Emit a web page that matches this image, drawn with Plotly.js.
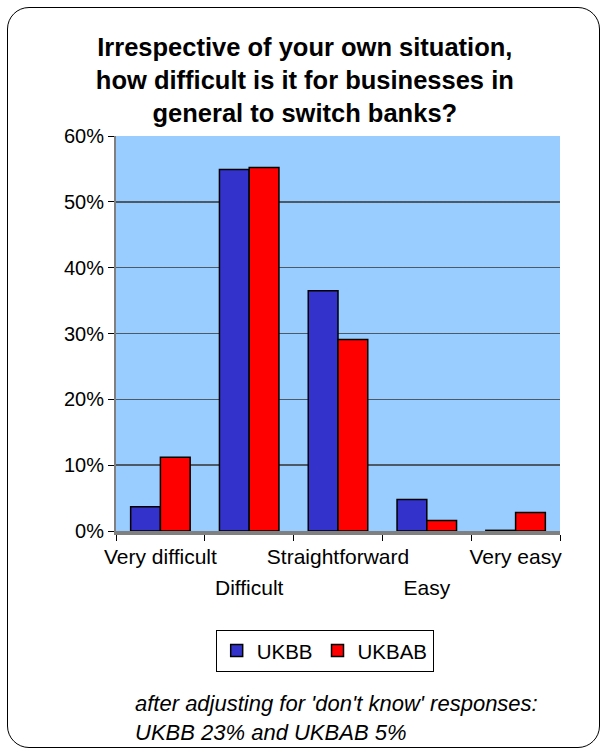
<!DOCTYPE html>
<html>
<head>
<meta charset="utf-8">
<script src="https://cdn.plot.ly/plotly-3.0.1.min.js"></script>
<style>
  html, body { margin: 0; padding: 0; background: #ffffff; }
  #wrap { position: relative; width: 606px; height: 754px; }
  #chart { position: absolute; left: 0; top: 0; width: 606px; height: 754px; }
  #frame { position: absolute; left: 7px; top: 7px; width: 591px; height: 739px;
           border: 1.5px solid #000; border-radius: 22px; pointer-events: none; }
</style>
</head>
<body>
<div id="wrap">
  <div id="chart"></div>
  <div id="frame"></div>
</div>
<script>
const categories = ["Very difficult", "Difficult", "Straightforward", "Easy", "Very easy"];
const tickRows = [0, 1, 0, 1, 0];
const ukbb  = [0.037, 0.549, 0.365, 0.048, 0.001];
const ukbab = [0.112, 0.552, 0.291, 0.016, 0.028];
const seriesNames = ["UKBB", "UKBAB"];

const font = "Liberation Sans, Arial, sans-serif";
const tickLabels = categories.map((c, i) =>
  (tickRows[i] ? " <br>" : "") + "<span style='font-size:21px'>" + c + "</span>");

const traces = [
  { type: "bar", name: seriesNames[0], x: categories, y: ukbb,
    marker: { color: "#3333CC", line: { color: "#000000", width: 1.5 } } },
  { type: "bar", name: seriesNames[1], x: categories, y: ukbab,
    marker: { color: "#FF0000", line: { color: "#000000", width: 1.5 } } }
];

const layout = {
  width: 606, height: 754,
  margin: { l: 116, r: 46, t: 136, b: 223 },
  paper_bgcolor: "rgba(0,0,0,0)",
  plot_bgcolor: "#99CCFF",
  barmode: "group",
  bargap: 0.33,
  bargroupgap: 0,
  showlegend: true,
  title: {
    text: "<b>Irrespective of your own situation,<br>how difficult is it for businesses in<br>general to switch banks?</b>",
    font: { family: font, size: 25.5, color: "#000" },
    x: 0.503, xref: "container", xanchor: "center",
    y: 0.926, yref: "container", yanchor: "top"
  },
  xaxis: {
    type: "category",
    tickvals: categories, ticktext: tickLabels,
    tickangle: 0,
    tickfont: { family: font, size: 24, color: "#000" },
    showline: true, linecolor: "#808080", linewidth: 4,
    ticks: "outside", ticklen: 6, tickcolor: "#000",
    tickson: "boundaries",
    showgrid: false, fixedrange: true
  },
  yaxis: {
    range: [0, 0.6], dtick: 0.1, tickformat: ".0%",
    tickfont: { family: font, size: 20, color: "#000" },
    showline: true, linecolor: "#808080", linewidth: 2,
    ticks: "outside", ticklen: 6, tickcolor: "#000",
    showgrid: true, gridcolor: "#4d5a66", gridwidth: 1.5,
    zeroline: false, fixedrange: true
  },
  legend: {
    orientation: "h",
    x: 0.47, xanchor: "center",
    y: -0.25, yanchor: "top",
    bordercolor: "#000", borderwidth: 1, bgcolor: "#fff",
    font: { family: font, size: 20.5, color: "#000" },
    itemwidth: 30
  },
  annotations: [{
    xref: "paper", yref: "paper",
    x: 0.038, y: -0.473, xanchor: "left", yanchor: "middle",
    align: "left", showarrow: false,
    text: "<i>after adjusting for 'don't know' responses:<br>UKBB 23% and UKBAB 5%</i>",
    font: { family: font, size: 22, color: "#000" }
  }]
};

Plotly.newPlot("chart", traces, layout, { displayModeBar: false, staticPlot: true });
</script>
</body>
</html>
